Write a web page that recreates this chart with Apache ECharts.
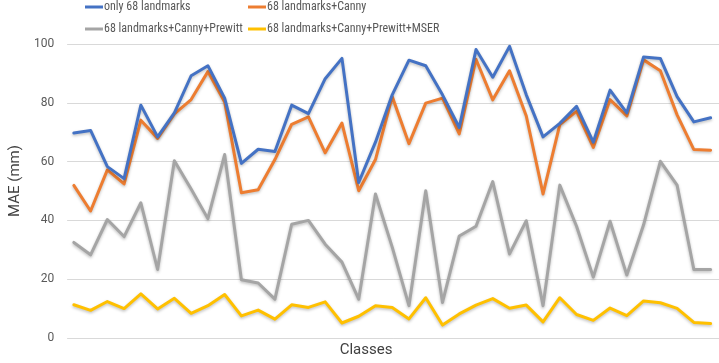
<!DOCTYPE html>
<html>
<head>
<meta charset="utf-8">
<script src="https://cdn.jsdelivr.net/npm/echarts@6/dist/echarts.min.js"></script>
<style>
html,body{margin:0;padding:0;background:#fff;}
#chart{width:719px;height:363px;}
</style>
</head>
<body>
<div id="chart"></div>
<script>
const categories = Array.from({length: 39}, (_, i) => 'Class ' + (i + 1));
const seriesNames = ['only 68 landmarks', '68 landmarks+Canny', '68 landmarks+Canny+Prewitt', '68 landmarks+Canny+Prewitt+MSER'];
const onlyLandmarks = [69.7, 70.6, 58.3, 54.2, 79.2, 68.4, 76.6, 89.2, 92.6, 81.6, 59.4, 64.2, 63.4, 79.2, 76.3, 88.2, 95.1, 52.9, 66.6, 82.7, 94.5, 92.6, 82.7, 71.6, 98.1, 88.7, 99.2, 82.7, 68.4, 73.0, 78.8, 66.6, 84.3, 76.6, 95.6, 95.1, 82.1, 73.5, 74.9];
const landmarksCanny = [51.9, 43.2, 57.2, 52.4, 74.1, 67.9, 76.2, 81.1, 90.6, 80.3, 49.4, 50.4, 60.7, 72.7, 75.2, 63.0, 73.1, 50.1, 60.7, 82.1, 66.1, 79.9, 81.6, 69.4, 94.8, 81.0, 90.9, 75.5, 49.0, 72.6, 77.1, 64.8, 81.1, 75.5, 94.6, 90.9, 75.9, 64.1, 63.9];
const landmarksCannyPrewitt = [32.5, 28.3, 40.3, 34.5, 46.0, 23.3, 60.3, 50.7, 40.6, 62.4, 19.8, 18.7, 13.2, 38.7, 40.0, 31.9, 25.8, 13.2, 49.0, 30.9, 11.0, 50.1, 12.1, 34.7, 38.0, 53.2, 28.6, 39.9, 11.0, 52.0, 38.0, 20.7, 39.7, 21.4, 38.5, 60.1, 52.0, 23.3, 23.3];
const landmarksCannyPrewittMSER = [11.3, 9.4, 12.4, 10.0, 15.0, 9.9, 13.5, 8.4, 11.0, 14.8, 7.5, 9.5, 6.4, 11.3, 10.4, 12.3, 5.1, 7.4, 11.0, 10.4, 6.5, 13.7, 4.4, 8.2, 11.2, 13.4, 10.1, 11.2, 5.5, 13.7, 8.0, 6.0, 10.2, 7.6, 12.6, 12.0, 10.1, 5.3, 4.9];
const yTicks = [0, 20, 40, 60, 80, 100];

const colors = ['#4472C4', '#ED7D31', '#A5A5A5', '#FFC000'];
const allValues = [onlyLandmarks, landmarksCanny, landmarksCannyPrewitt, landmarksCannyPrewittMSER];

const chart = echarts.init(document.getElementById('chart'), null, {renderer: 'canvas'});
const legendFont = "'Liberation Sans Narrow', 'Roboto Condensed', 'Arial Narrow', Lato, sans-serif";
function mkLegend(name, left, top) {
  return {
    data: [name], left: left, top: top, padding: 0, orient: 'horizontal',
    icon: 'rect', itemWidth: 18, itemHeight: 3,
    textStyle: {color: '#595959', fontSize: 12, fontFamily: legendFont, padding: [0, 0, 0, -4]}
  };
}
const option = {
  animation: false,
  backgroundColor: '#ffffff',
  color: colors,
  legend: [
    mkLegend(seriesNames[0], 85, 1),
    mkLegend(seriesNames[1], 248, 1),
    mkLegend(seriesNames[2], 85, 23),
    mkLegend(seriesNames[3], 248, 23)
  ],
  grid: {left: 48, right: 0, top: 44, bottom: 17, containLabel: false},
  xAxis: {
    type: 'value', min: -0.4, max: 38.5,
    axisLine: {show: false}, axisTick: {show: false}, axisLabel: {show: false}, splitLine: {show: false},
    name: 'Classes', nameLocation: 'middle', nameGap: 5,
    nameTextStyle: {color: '#404040', fontSize: 15, fontFamily: 'Roboto', verticalAlign: 'top', padding: [0, 54, 0, 0]}
  },
  yAxis: {
    type: 'value', min: yTicks[0], max: yTicks[yTicks.length - 1], interval: 20,
    axisLine: {show: false}, axisTick: {show: false},
    axisLabel: {color: '#595959', fontSize: 12, fontFamily: 'Roboto', margin: 13},
    splitLine: {lineStyle: {color: '#d9d9d9', width: 1}},
    name: 'MAE (mm)', nameLocation: 'middle', nameGap: 35,
    nameTextStyle: {color: '#404040', fontSize: 15, fontFamily: 'Roboto', padding: [0, 0, 0, 20]}
  },
  series: allValues.map((vals, k) => ({
    name: seriesNames[k],
    type: 'line',
    data: vals.map((v, i) => [i, v]),
    symbol: 'none',
    lineStyle: {width: 3, color: colors[k], shadowColor: 'rgba(0,0,0,0.25)', shadowBlur: 3, shadowOffsetY: 1.5, cap: 'round', join: 'round'},
    itemStyle: {color: colors[k]},
    z: 10 - k
  }))
};
chart.setOption(option);
</script>
</body>
</html>
